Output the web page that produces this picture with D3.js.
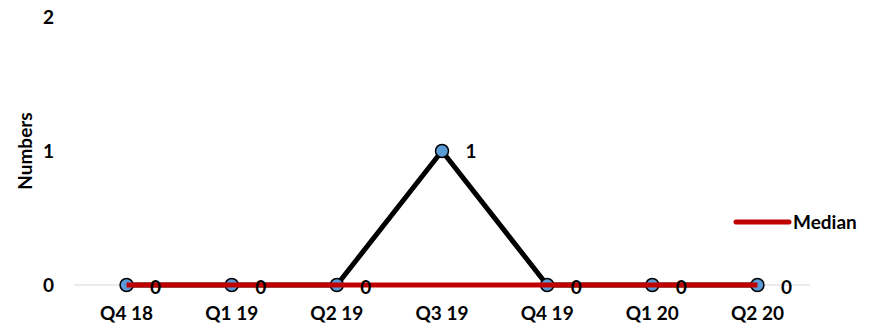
<!DOCTYPE html>
<html>
<head>
<meta charset="utf-8">
<script src="https://cdn.jsdelivr.net/npm/d3@7"></script>
<style>
  body { margin: 0; background: #fff; }
  text { font-family: Lato, "Open Sans", sans-serif; font-weight: bold; fill: #000; }
</style>
</head>
<body>
<svg></svg>
<script>
const quarters = ["Q4 18", "Q1 19", "Q2 19", "Q3 19", "Q4 19", "Q1 20", "Q2 20"];
const numbers = [0, 0, 0, 1, 0, 0, 0];
const median = [0, 0, 0, 0, 0, 0, 0];
const y_ticks = [0, 1, 2];

let width = 883,
  height = 324;

let svg = d3.select("svg").attr("width", width).attr("height", height);

let x = d3.scaleBand().domain(quarters).range([74, 810]);
let y = d3.scaleLinear().domain([0, 2]).range([285, 17]);
const cx = (d) => x(d) + x.bandwidth() / 2;

// baseline
svg
  .append("line")
  .attr("x1", 74)
  .attr("x2", 810)
  .attr("y1", y(0))
  .attr("y2", y(0))
  .attr("stroke", "#d9d9d9")
  .attr("stroke-width", 1);

// y tick labels
svg
  .append("g")
  .selectAll("text")
  .data(y_ticks)
  .enter()
  .append("text")
  .attr("x", 54)
  .attr("y", (d) => y(d))
  .attr("dy", "0.36em")
  .attr("text-anchor", "end")
  .style("font-size", "19px")
  .text((d) => d);

// axis title
svg
  .append("text")
  .attr("transform", `translate(25,${y(1)}) rotate(-90)`)
  .attr("dy", "0.36em")
  .attr("text-anchor", "middle")
  .style("font-size", "19px")
  .text("Numbers");

// x labels
svg
  .append("g")
  .selectAll("text")
  .data(quarters)
  .enter()
  .append("text")
  .attr("x", (d) => cx(d))
  .attr("y", 313)
  .attr("dy", "0.36em")
  .attr("text-anchor", "middle")
  .style("font-size", "19px")
  .text((d) => d);

// numbers line
let line = d3
  .line()
  .x((d, i) => cx(quarters[i]))
  .y((d) => y(d));

svg
  .append("path")
  .attr("d", line(numbers))
  .attr("fill", "none")
  .attr("stroke", "#000")
  .attr("stroke-width", 5)
  .attr("stroke-linejoin", "miter");

// markers
svg
  .append("g")
  .selectAll("circle")
  .data(numbers)
  .enter()
  .append("circle")
  .attr("cx", (d, i) => cx(quarters[i]))
  .attr("cy", (d) => y(d))
  .attr("r", 6.5)
  .attr("fill", "#5b9bd5")
  .attr("stroke", "#000")
  .attr("stroke-width", 1.5);

// median line (on top)
svg
  .append("path")
  .attr("d", line(median))
  .attr("fill", "none")
  .attr("stroke", "#c00000")
  .attr("stroke-width", 5);

// data labels
svg
  .append("g")
  .selectAll("text")
  .data(numbers)
  .enter()
  .append("text")
  .attr("x", (d, i) => cx(quarters[i]) + 29)
  .attr("y", (d) => y(d) + (d == 0 ? 2 : 0))
  .attr("dy", "0.36em")
  .attr("text-anchor", "middle")
  .style("font-size", "19px")
  .text((d) => d);

// legend
svg
  .append("line")
  .attr("x1", 736)
  .attr("x2", 789)
  .attr("y1", 222)
  .attr("y2", 222)
  .attr("stroke", "#c00000")
  .attr("stroke-width", 5)
  .attr("stroke-linecap", "round");

svg
  .append("text")
  .attr("x", 793)
  .attr("y", 222)
  .attr("dy", "0.36em")
  .style("font-size", "19px")
  .text("Median");
</script>
</body>
</html>
